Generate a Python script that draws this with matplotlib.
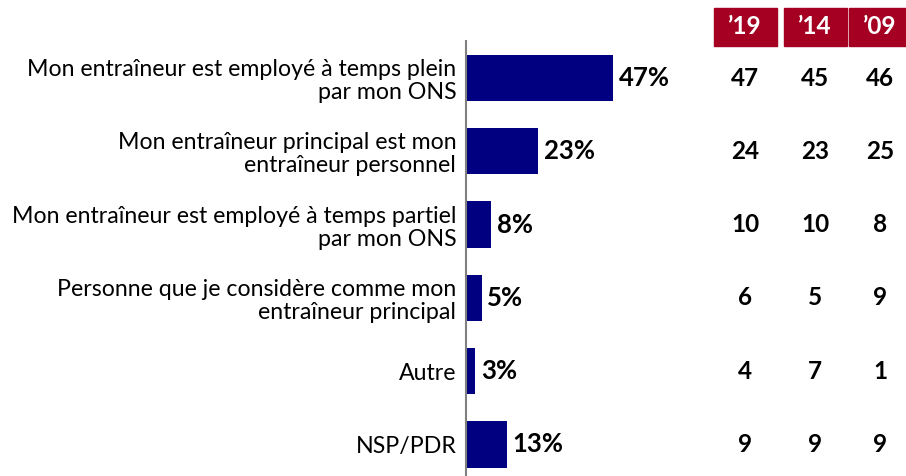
import matplotlib
matplotlib.use("Agg")
import matplotlib.pyplot as plt
from matplotlib.patches import Rectangle

categories = [
    "Mon entraîneur est employé à temps plein\npar mon ONS",
    "Mon entraîneur principal est mon\nentraîneur personnel",
    "Mon entraîneur est employé à temps partiel\npar mon ONS",
    "Personne que je considère comme mon\nentraîneur principal",
    "Autre",
    "NSP/PDR",
]
values = [47, 23, 8, 5, 3, 13]
years = ["\u201919", "\u201914", "\u201909"]
past = {
    "\u201919": [47, 24, 10, 6, 4, 9],
    "\u201914": [45, 23, 10, 5, 7, 9],
    "\u201909": [46, 25, 8, 9, 1, 9],
}

W, H = 906, 476
fig = plt.figure(figsize=(W / 100, H / 100), dpi=100)
FONT = "Lato"

ax_left, ax_top = 466, 41.3
ax = fig.add_axes([ax_left / W, 0, (W - ax_left) / W, 1 - ax_top / H])
ppx = 3.13
ax.set_xlim(0, (W - ax_left) / ppx)
row = 73.3
ax.set_ylim((476 - 78) / row, -0.5)
ypos = list(range(len(categories)))
ax.barh(ypos, values, height=0.63, color="#000080")
for y, v in zip(ypos, values):
    ax.text(v + 1.8, y, f"{v}%", va="center", ha="left", fontsize=18.5,
            fontweight="bold", family=FONT)
ax.set_yticks(ypos)
ax.set_yticklabels(categories, fontsize=16.7, family=FONT, ha="right",
                   linespacing=1.12)
ax.tick_params(axis="y", length=0, pad=7)
ax.set_xticks([])
for s in ["top", "right", "bottom"]:
    ax.spines[s].set_visible(False)
ax.spines["left"].set_color("#808080")
ax.spines["left"].set_linewidth(1.5)

# table
col_x = [745, 815, 880]
box_w = 63
for cx, yr in zip(col_x, years):
    fig.patches.append(Rectangle(((cx - box_w / 2) / W, 1 - 46 / H), box_w / W, 38 / H,
                                 transform=fig.transFigure, color="#A50021"))
    fig.text(cx / W, 1 - 27 / H, yr, color="white", fontsize=17.5, fontweight="bold",
             ha="center", va="center", family=FONT)
    for i, v in enumerate(past[yr]):
        yc = 78 + row * i
        fig.text(cx / W, 1 - yc / H, str(v), fontsize=17.5, fontweight="bold",
                 ha="center", va="center", family=FONT)

fig.savefig("out.png", dpi=100)
